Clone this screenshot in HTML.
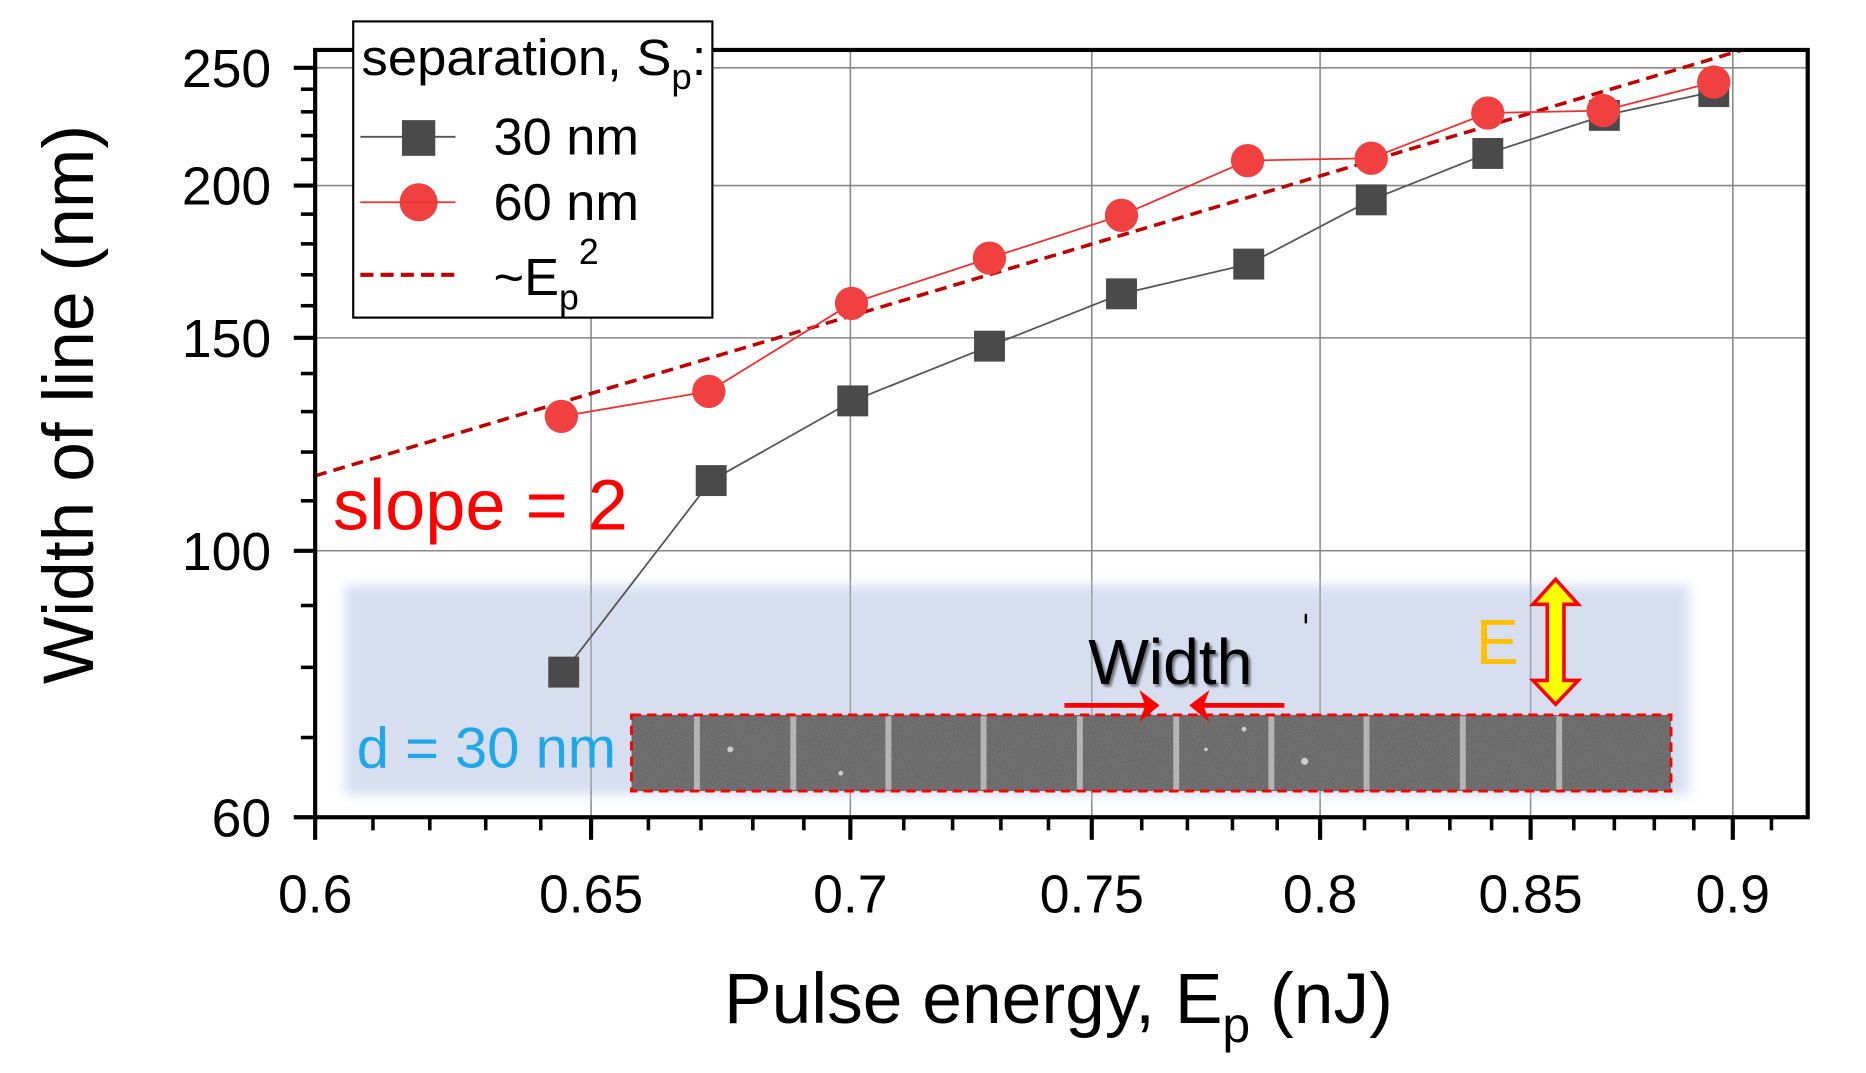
<!DOCTYPE html>
<html><head><meta charset="utf-8"><style>
html,body{margin:0;padding:0;background:#fff}
svg{display:block}
text{font-family:"Liberation Sans",sans-serif}
</style></head><body>
<svg width="1866" height="1073" viewBox="0 0 1569 902" preserveAspectRatio="none" xmlns="http://www.w3.org/2000/svg">
<defs>
<filter id="bl" x="-5%" y="-20%" width="110%" height="140%"><feGaussianBlur stdDeviation="5"/></filter>
<filter id="sh"><feGaussianBlur stdDeviation="1.2"/></filter>
<filter id="noise" x="0" y="0" width="100%" height="100%"><feTurbulence type="fractalNoise" baseFrequency="0.9" numOctaves="2" result="n"/><feColorMatrix in="n" type="matrix" values="0 0 0 0 0.33  0 0 0 0 0.33  0 0 0 0 0.33  0 0 0 0.5 0"/></filter>
</defs>
<!-- grid -->
<g stroke="#888" stroke-width="1.3">
<line x1="497" y1="42" x2="497" y2="687"/><line x1="715" y1="42" x2="715" y2="687"/>
<line x1="918" y1="42" x2="918" y2="687"/><line x1="1110" y1="42" x2="1110" y2="687"/>
<line x1="1287" y1="42" x2="1287" y2="687"/><line x1="1457" y1="42" x2="1457" y2="687"/>
<line x1="265" y1="57" x2="1520" y2="57"/><line x1="265" y1="156" x2="1520" y2="156"/>
<line x1="265" y1="284" x2="1520" y2="284"/><line x1="265" y1="463" x2="1520" y2="463"/>
</g>
<!-- blue band -->
<rect x="290" y="492" width="1130" height="176" fill="#cfd9ee" opacity="0.85" filter="url(#bl)"/>
<g stroke="#888" stroke-width="1.3" opacity="0.6">
<line x1="497" y1="492" x2="497" y2="668"/><line x1="715" y1="492" x2="715" y2="668"/>
<line x1="918" y1="492" x2="918" y2="668"/><line x1="1110" y1="492" x2="1110" y2="668"/>
<line x1="1287" y1="492" x2="1287" y2="668"/>
</g>
<!-- SEM strip -->
<rect x="531" y="601" width="874" height="64" fill="#5e5e5e"/>
<rect x="531" y="601" width="874" height="64" filter="url(#noise)"/>
<g stroke="#b4b4b4" stroke-width="5">
<line x1="586" y1="602" x2="586" y2="664"/><line x1="667" y1="602" x2="667" y2="664"/>
<line x1="747" y1="602" x2="747" y2="664"/><line x1="827" y1="602" x2="827" y2="664"/>
<line x1="908" y1="602" x2="908" y2="664"/><line x1="989" y1="602" x2="989" y2="664"/>
<line x1="1069" y1="602" x2="1069" y2="664"/><line x1="1149" y1="602" x2="1149" y2="664"/>
<line x1="1230" y1="602" x2="1230" y2="664"/><line x1="1311" y1="602" x2="1311" y2="664"/>
</g>
<g fill="#ccc"><circle cx="614" cy="630" r="2.5"/><circle cx="1046" cy="613" r="2"/><circle cx="1097" cy="640" r="3"/><circle cx="1014" cy="630" r="1.5"/><circle cx="707" cy="650" r="2"/></g>
<rect x="531" y="601" width="874" height="64" fill="none" stroke="#f00" stroke-width="2.5" stroke-dasharray="8,5"/>
<!-- annotations -->
<text x="915" y="575" font-size="54" fill="#000" filter="url(#sh)" opacity="0.5" transform="translate(2,2)">Width</text>
<text x="915" y="575" font-size="54" fill="#000">Width</text>
<rect x="1097" y="516" width="2" height="8" fill="#000"/>
<text x="1241" y="558" font-size="54" fill="#ffc000">E</text>
<polygon points="1308,487 1327,508 1315,508 1315,572 1327,572 1308,592 1289,572 1301,572 1301,508 1289,508" fill="#ff0" stroke="#f00" stroke-width="3"/>
<g stroke="#f00" stroke-width="4" fill="#f00">
<line x1="895" y1="593" x2="965" y2="593"/><line x1="1010" y1="593" x2="1080" y2="593"/>
</g>
<polygon points="975,593 958,580 963,593 958,607" fill="#f00"/>
<polygon points="1000,593 1017,580 1012,593 1017,607" fill="#f00"/>
<text x="300" y="645" font-size="48" fill="#1ea8e8" textLength="218" lengthAdjust="spacingAndGlyphs">d = 30 nm</text>
<text x="280" y="445" font-size="60" fill="#f00" textLength="248" lengthAdjust="spacingAndGlyphs">slope = 2</text>
<!-- dashed fit -->
<line x1="265" y1="400" x2="1465" y2="42" stroke="#c00000" stroke-width="3" stroke-dasharray="10,6"/>
<!-- series 30nm -->
<polyline fill="none" stroke="#555" stroke-width="1.5" points="474,565 598,404 717,337 832,291 943,247 1050,222 1153,168 1251,129 1349,97 1441,77"/>
<g fill="#4a4a4a">
<rect x="461" y="552" width="26" height="26"/><rect x="585" y="391" width="26" height="26"/>
<rect x="704" y="324" width="26" height="26"/><rect x="819" y="278" width="26" height="26"/>
<rect x="930" y="234" width="26" height="26"/><rect x="1037" y="209" width="26" height="26"/>
<rect x="1140" y="155" width="26" height="26"/><rect x="1238" y="116" width="26" height="26"/>
<rect x="1336" y="84" width="26" height="26"/><rect x="1428" y="64" width="26" height="26"/>
</g>
<!-- series 60nm -->
<polyline fill="none" stroke="#f03030" stroke-width="1.5" points="472,350 596,329 716,255 832,217 943,181 1049,135 1153,133 1251,95 1348,93 1441,69"/>
<g fill="#f04040">
<circle cx="472" cy="350" r="14"/><circle cx="596" cy="329" r="14"/><circle cx="716" cy="255" r="14"/>
<circle cx="832" cy="217" r="14"/><circle cx="943" cy="181" r="14"/><circle cx="1049" cy="135" r="14"/>
<circle cx="1153" cy="133" r="14"/><circle cx="1251" cy="95" r="14"/><circle cx="1348" cy="93" r="14"/>
<circle cx="1441" cy="69" r="14"/>
</g>
<!-- frame -->
<rect x="265" y="42" width="1255" height="645" fill="none" stroke="#000" stroke-width="3.5"/>
<!-- y ticks -->
<g stroke="#000" stroke-width="3.5">
<line x1="247" y1="57" x2="265" y2="57"/><line x1="247" y1="156" x2="265" y2="156"/>
<line x1="247" y1="284" x2="265" y2="284"/><line x1="247" y1="463" x2="265" y2="463"/>
<line x1="247" y1="687" x2="265" y2="687"/>
</g>
<g stroke="#000" stroke-width="3">
<line x1="253" y1="75" x2="265" y2="75"/><line x1="253" y1="94" x2="265" y2="94"/>
<line x1="253" y1="114" x2="265" y2="114"/><line x1="253" y1="134" x2="265" y2="134"/>
<line x1="253" y1="180" x2="265" y2="180"/><line x1="253" y1="205" x2="265" y2="205"/>
<line x1="253" y1="231" x2="265" y2="231"/><line x1="253" y1="257" x2="265" y2="257"/>
<line x1="253" y1="314" x2="265" y2="314"/><line x1="253" y1="346" x2="265" y2="346"/>
<line x1="253" y1="380" x2="265" y2="380"/><line x1="253" y1="421" x2="265" y2="421"/>
<line x1="253" y1="509" x2="265" y2="509"/><line x1="253" y1="561" x2="265" y2="561"/>
<line x1="253" y1="620" x2="265" y2="620"/>
</g>
<!-- x ticks -->
<g stroke="#000" stroke-width="3.5">
<line x1="265" y1="687" x2="265" y2="706"/><line x1="497" y1="687" x2="497" y2="706"/>
<line x1="715" y1="687" x2="715" y2="706"/><line x1="918" y1="687" x2="918" y2="706"/>
<line x1="1110" y1="687" x2="1110" y2="706"/><line x1="1287" y1="687" x2="1287" y2="706"/>
<line x1="1457" y1="687" x2="1457" y2="706"/>
</g>
<g stroke="#000" stroke-width="3">
<line x1="313.6" y1="687" x2="313.6" y2="698"/><line x1="361.4" y1="687" x2="361.4" y2="698"/>
<line x1="408.4" y1="687" x2="408.4" y2="698"/><line x1="454.7" y1="687" x2="454.7" y2="698"/>
<line x1="545.2" y1="687" x2="545.2" y2="698"/><line x1="589.4" y1="687" x2="589.4" y2="698"/>
<line x1="633" y1="687" x2="633" y2="698"/><line x1="675.9" y1="687" x2="675.9" y2="698"/>
<line x1="759.9" y1="687" x2="759.9" y2="698"/><line x1="801" y1="687" x2="801" y2="698"/>
<line x1="841.6" y1="687" x2="841.6" y2="698"/><line x1="881.6" y1="687" x2="881.6" y2="698"/>
<line x1="960" y1="687" x2="960" y2="698"/><line x1="998.4" y1="687" x2="998.4" y2="698"/>
<line x1="1036.3" y1="687" x2="1036.3" y2="698"/><line x1="1073.9" y1="687" x2="1073.9" y2="698"/>
<line x1="1147.3" y1="687" x2="1147.3" y2="698"/><line x1="1183.4" y1="687" x2="1183.4" y2="698"/>
<line x1="1219.1" y1="687" x2="1219.1" y2="698"/><line x1="1254.2" y1="687" x2="1254.2" y2="698"/>
<line x1="1323.3" y1="687" x2="1323.3" y2="698"/><line x1="1357.4" y1="687" x2="1357.4" y2="698"/>
<line x1="1391" y1="687" x2="1391" y2="698"/><line x1="1424.2" y1="687" x2="1424.2" y2="698"/>
<line x1="1489.5" y1="687" x2="1489.5" y2="698"/>
</g>
<!-- tick labels -->
<g font-size="45" fill="#000" text-anchor="end">
<text x="228" y="73">250</text><text x="228" y="172">200</text><text x="228" y="300">150</text>
<text x="228" y="479">100</text><text x="228" y="703">60</text>
</g>
<g font-size="45" fill="#000" text-anchor="middle">
<text x="265" y="767">0.6</text><text x="497" y="767">0.65</text><text x="715" y="767">0.7</text>
<text x="918" y="767">0.75</text><text x="1110" y="767">0.8</text><text x="1287" y="767">0.85</text>
<text x="1457" y="767">0.9</text>
</g>
<!-- axis titles -->
<text x="890" y="860" font-size="60" text-anchor="middle" fill="#000">Pulse energy, E<tspan font-size="42" dy="16">p</tspan><tspan dy="-16"> (nJ)</tspan></text>
<text transform="translate(78,340) rotate(-90)" font-size="60" text-anchor="middle" fill="#000">Width of line (nm)</text>
<!-- legend -->
<rect x="297" y="18" width="302" height="249" fill="#fff" stroke="#000" stroke-width="1.8"/>
<text x="304" y="63" font-size="43" fill="#000" textLength="290" lengthAdjust="spacingAndGlyphs">separation, S<tspan font-size="30" dy="12">p</tspan><tspan dy="-12">:</tspan></text>
<line x1="303" y1="115" x2="383" y2="115" stroke="#555" stroke-width="1.5"/>
<rect x="338" y="101" width="28" height="30" fill="#4a4a4a"/>
<text x="415" y="130" font-size="44" fill="#000">30 nm</text>
<circle cx="352" cy="170" r="16" fill="#f04040"/>
<line x1="303" y1="170" x2="383" y2="170" stroke="#f03030" stroke-width="1.5"/>
<text x="415" y="185" font-size="44" fill="#000">60 nm</text>
<line x1="303" y1="231" x2="383" y2="231" stroke="#c00000" stroke-width="3.5" stroke-dasharray="11,6"/>
<text x="415" y="248" font-size="44" fill="#000">~E<tspan font-size="30" dy="12">p</tspan><tspan font-size="30" dy="-38">2</tspan></text>
</svg>
</body></html>
